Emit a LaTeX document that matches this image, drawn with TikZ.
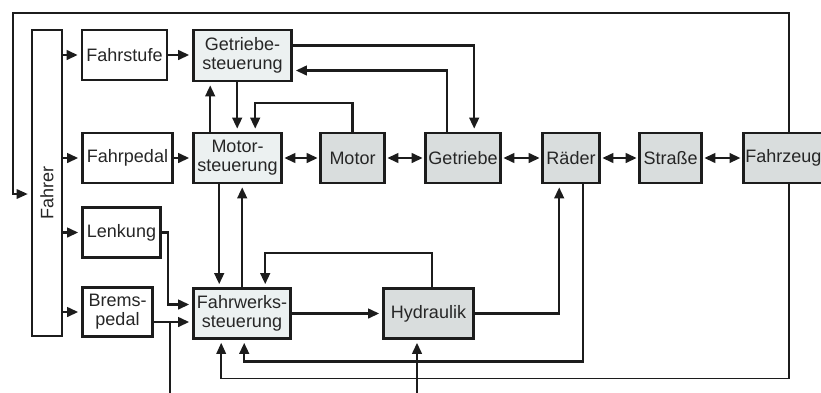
\documentclass[tikz,border=0pt]{standalone}
\usepackage{fontspec}
\setmainfont{Liberation Sans}
\usetikzlibrary{arrows.meta, positioning}

\definecolor{steuerfill}{HTML}{ECF1F1}
\definecolor{physfill}{HTML}{D9DDDD}
\definecolor{linecol}{HTML}{1C1C1C}

\begin{document}
\begin{tikzpicture}[
    x=1pt, y=-1pt,
    font=\fontsize{18}{19}\selectfont,
    box/.style={draw=linecol, line width=2.6pt, fill=white, inner sep=2pt,
                minimum height=50pt, align=center, text=black!85},
    ctrlbox/.style={box, fill=steuerfill},
    physbox/.style={box, fill=physfill},
    arr/.style={-{Triangle[length=11pt, width=9.5pt]}, line width=2.4pt, draw=linecol,
                shorten >=3pt},
    darr/.style={{Triangle[length=11pt, width=9.5pt]}-{Triangle[length=11pt, width=9.5pt]},
                 line width=2.4pt, draw=linecol, shorten >=1.5pt, shorten <=1.5pt},
    ln/.style={line width=2.4pt, draw=linecol},
    loopln/.style={line width=1.6pt, draw=linecol},
]
    \path[use as bounding box, fill=white] (0,0) rectangle (821,392);

    % Nodes
    \node[box, minimum width=30pt, minimum height=306pt] (fahrer) at (47,183)
        {\rotatebox{90}{Fahrer\hspace{20pt}}};
    \node[box, minimum width=85pt] (fahrstufe) at (124.5,55) {Fahrstufe};
    \node[ctrlbox, minimum width=98pt, minimum height=51pt] (gsteuer) at (242.5,55.5) {Getriebe-\\steuerung};
    \node[box, minimum width=90pt] (fahrpedal) at (127.5,158) {Fahrpedal};
    \node[ctrlbox, minimum width=88pt] (msteuer) at (237.5,158) {Motor-\\steuerung};
    \node[physbox, minimum width=64pt] (motor) at (352.5,158) {Motor};
    \node[physbox, minimum width=75pt] (getriebe) at (463,158) {Getriebe};
    \node[physbox, minimum width=57pt] (raeder) at (571,158) {Räder};
    \node[physbox, minimum width=62pt] (strasse) at (670.5,158) {Straße};
    \node[physbox, anchor=west, inner xsep=2pt, text width=78pt, align=left] (fahrzeug) at (742,158) {Fahrzeug};
    \node[box, minimum width=78pt] (lenkung) at (121.5,232.5) {Lenkung};
    \node[box, minimum width=70pt, minimum height=49pt] (bremspedal) at (117.5,312) {Brems-\\pedal};
    \node[ctrlbox, minimum width=97pt, minimum height=50pt] (fwsteuer) at (242,313.5) {Fahrwerks-\\steuerung};
    \node[physbox, minimum width=90pt, minimum height=50pt] (hydraulik) at (428.5,313.5) {Hydraulik};

    \coordinate (ltop) at (13,13);
    \coordinate (bout) at (170,396);
    \coordinate (hin) at (417,396);

    % Fahrer inputs
    \draw[arr] (fahrer.east |- fahrstufe.west) -- (fahrstufe.west);
    \draw[arr] (fahrer.east |- fahrpedal.west) -- (fahrpedal.west);
    \draw[arr] (fahrer.east |- lenkung.west) -- (lenkung.west);
    \draw[arr] (fahrer.east |- bremspedal.west) -- (bremspedal.west);
    \draw[arr] (fahrstufe.east) -- (fahrstufe.east -| gsteuer.west);
    \draw[arr] (fahrpedal.east) -- (fahrpedal.east -| msteuer.west);

    % Steuerungen
    \draw[arr] ([xshift=18pt]msteuer.north west) -- ([xshift=18pt]gsteuer.south west);
    \draw[arr] ([xshift=45pt]gsteuer.south west) -- ([xshift=45pt]msteuer.north west);
    \draw[arr] (motor.north) -- ++(0,-29) -| ([xshift=63pt]msteuer.north west);
    \draw[arr] ([yshift=10pt]gsteuer.east) -| ([xshift=50pt]getriebe.north west);
    \draw[arr] ([xshift=23pt]getriebe.north west) |- ([yshift=-15pt]gsteuer.east);
    \draw[arr] ([xshift=27pt]msteuer.south west) -- ([xshift=27pt]fwsteuer.north west);
    \draw[arr] ([xshift=50pt]fwsteuer.north west) -- ([xshift=50pt]msteuer.south west);

    % Antriebsstrang
    \draw[darr] (msteuer.east) -- (motor.west);
    \draw[darr] (motor.east) -- (getriebe.west);
    \draw[darr] (getriebe.east) -- (raeder.west);
    \draw[darr] (raeder.east) -- (strasse.west);
    \draw[darr] (strasse.east) -- (fahrzeug.west);

    % Fahrwerk
    \draw[arr] (lenkung.east) -- ++(6,0) |- ([yshift=9pt]fwsteuer.west);
    \draw[arr] ([yshift=-10pt]bremspedal.east) -- ([yshift=-10pt]bremspedal.east -| fwsteuer.west);
    \draw[ln] ([yshift=-10pt]bremspedal.east) -| (bout);
    \draw[arr] (fwsteuer.east) -- (fwsteuer.east -| hydraulik.west);
    \draw[arr] ([xshift=50pt]hydraulik.north west) -- ++(0,-34) -| ([xshift=73pt]fwsteuer.north west);
    \draw[arr] (hydraulik.east) -| ([xshift=18pt]raeder.south west);
    \draw[arr] (hin) -- (hin |- hydraulik.south);
    \draw[arr] ([xshift=42pt]raeder.south west) -- ++(0,177) -| ([xshift=52pt]fwsteuer.south west);

    % Rueckkopplung Fahrzeug
    \draw[loopln, -{Triangle[length=11pt, width=9.5pt]}, shorten >=3pt]
        ([xshift=47pt]fahrzeug.north west) |- (ltop) |- ([yshift=-11pt]fahrer.west);
    \draw[loopln, -{Triangle[length=11pt, width=9.5pt]}, shorten >=3pt]
        ([xshift=47pt]fahrzeug.south west) -- ++(0,194) -| ([xshift=29pt]fwsteuer.south west);
\end{tikzpicture}
\end{document}
